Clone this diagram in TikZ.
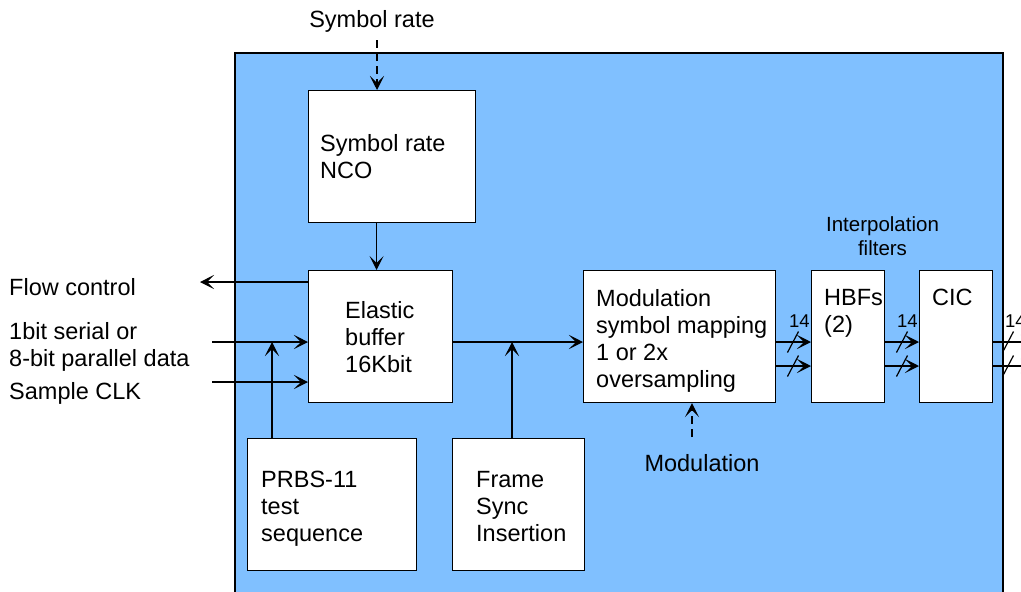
\documentclass[tikz,border=0pt]{standalone}
\usepackage{fontspec}
\setmainfont{Liberation Sans}
\usetikzlibrary{arrows.meta}
\definecolor{panelblue}{RGB}{128,192,255}
\begin{document}
\begin{tikzpicture}[x=1pt,y=-1pt,
  blk/.style={draw=black, fill=white, line width=1.2pt, rectangle, inner sep=0pt, anchor=north west},
  lbl/.style={font=\fontsize{23.5}{27.3}\selectfont, align=left, inner sep=0pt, anchor=base west},
  smalllbl/.style={font=\fontsize{20.5}{24.3}\selectfont, align=center, inner sep=0pt, anchor=base},
  buswidth/.style={font=\fontsize{18.5}{20}\selectfont, inner sep=0pt, anchor=base west},
  arr/.style={draw=black, line width=1.2pt, -{Stealth[length=14pt,width=14pt,inset=7pt]}},
  dasharr/.style={arr, dash pattern=on 8pt off 5pt},
  tick/.style={draw=black, line width=1.2pt}]

\useasboundingbox (0,0) rectangle (1021,592);
\clip (0,0) rectangle (1021,592);

% modulator panel
\fill[panelblue] (235,53) rectangle (1003,600);
\draw[line width=1.2pt] (235,600) -- (235,53) -- (1003,53) -- (1003,600);

% blocks
\node[blk, minimum width=167pt, minimum height=132pt] (nco)     at (308,90)  {};
\node[blk, minimum width=144pt, minimum height=132pt] (elastic) at (308,270) {};
\node[blk, minimum width=169pt, minimum height=132pt] (prbs)    at (247,438) {};
\node[blk, minimum width=132pt, minimum height=132pt] (frame)   at (452,438) {};
\node[blk, minimum width=192pt, minimum height=132pt] (mod)     at (583,270) {};
\node[blk, minimum width=73pt,  minimum height=132pt] (hbf)     at (811,270) {};
\node[blk, minimum width=73pt,  minimum height=132pt] (cic)     at (919,270) {};

% block captions (positioned by the baseline of their last line)
\node[lbl] (ncotxt)     at (320,178.3) {Symbol rate\\NCO};
\node[lbl] (elastictxt) at (345,372.6) {Elastic\\buffer\\16Kbit};
\node[lbl] (prbstxt)    at (261,541.6) {PRBS-11\\test\\sequence};
\node[lbl] (frametxt)   at (476,541.6) {Frame\\Sync\\Insertion};
\node[lbl] (modtxt)     at (596,387.9) {Modulation\\symbol mapping\\1 or 2x\\oversampling};
\node[lbl] (hbftxt)     at (824,332.3) {HBFs\\(2)};
\node[lbl] (cictxt)     at (932,305)   {CIC};

% external signals
\node[lbl] (flowtxt) at (9,295)   {Flow control};
\node[lbl] (datatxt) at (9,366.3) {1bit serial or\\8-bit parallel data};
\node[lbl] (clktxt)  at (9,399)   {Sample CLK};
\node[lbl, anchor=base] (srtxt)  at (372,27)  {Symbol rate};
\node[lbl, anchor=base] (modsel) at (702,471) {Modulation};
\node[smalllbl] (interp) at (882.5,255.3) {Interpolation\\filters};

% connector end points
\coordinate (srin)    at (377,40);
\coordinate (modin)   at (692,437);
\coordinate (fc)      at (200,282);
\coordinate (din)     at (212,342);
\coordinate (ckin)    at (212,382);
\coordinate (bus2)    at (212,366);
\coordinate (prbstap) at ([xshift=25pt]prbs.north west);
\coordinate (fstap)   at ([xshift=60pt]frame.north west);
\coordinate (outa)    at (1035,342);
\coordinate (outb)    at (1035,366);

% control inputs
\draw[dasharr] (srin) -- (srin |- nco.north);
\draw[dasharr] (modin) -- (modin |- mod.south);

% main data path
\draw[arr] ([xshift=-4pt]elastic.north |- nco.south) -- ([xshift=-4pt]elastic.north);
\draw[arr] (elastic.west |- fc) -- (fc);
\draw[arr] (din) -- (din -| elastic.west);
\draw[arr] (ckin) -- (ckin -| elastic.west);
\draw[arr] (prbstap) -- (prbstap |- din);
\draw[arr] (elastic.east |- din) -- (mod.west |- din);
\draw[arr] (fstap) -- (fstap |- din);

% 14-bit I/Q buses
\draw[arr] (mod.east |- din)  -- (hbf.west |- din);
\draw[arr] (mod.east |- bus2) -- (hbf.west |- bus2);
\draw[arr] (hbf.east |- din)  -- (cic.west |- din);
\draw[arr] (hbf.east |- bus2) -- (cic.west |- bus2);
\draw[arr] (cic.east |- din)  -- (outa);
\draw[arr] (cic.east |- bus2) -- (outb);

% bus width marks
\foreach \x in {793,902,1008} {
  \draw[tick] (\x-5.5,352.5) -- (\x+5.5,331.5);
  \draw[tick] (\x-5.5,376.5) -- (\x+5.5,355.5);
}
\node[buswidth] (w1) at (789,327)  {14};
\node[buswidth] (w2) at (897,327)  {14};
\node[buswidth] (w3) at (1005,327) {14};
\end{tikzpicture}
\end{document}
